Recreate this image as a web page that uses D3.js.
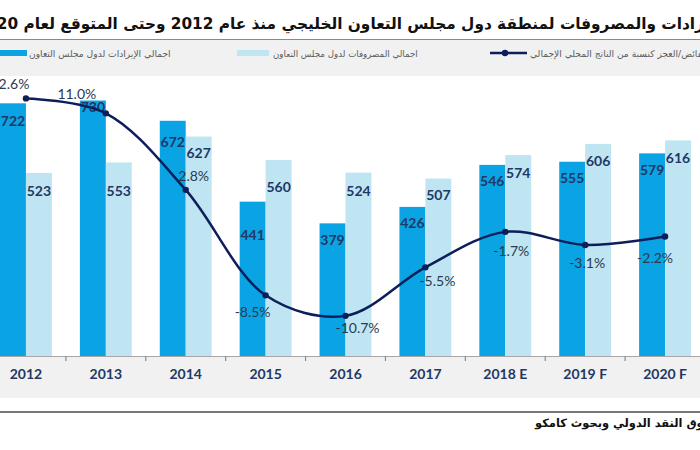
<!DOCTYPE html>
<html><head><meta charset="utf-8">
<script src="https://cdn.jsdelivr.net/npm/d3@7"></script>
<style>
html,body{margin:0;padding:0;background:#fff;overflow:hidden}
svg{display:block}
</style></head>
<body>
<svg id="chart" width="700" height="450"></svg>
<script>
// ---- data ----
const categories = ["2012","2013","2014","2015","2016","2017","2018 E","2019 F","2020 F"];
const revenues = [722,730,672,441,379,426,546,555,579];
const expenses = [523,553,627,560,524,507,574,606,616];
const balancePct = [12.6,11.0,2.8,-8.5,-10.7,-5.5,-1.7,-3.1,-2.2];
const titleText = "الإيرادات والمصروفات لمنطقة دول مجلس التعاون الخليجي منذ عام 2012 وحتى المتوقع لعام 2020";
const legendLabels = ["اجمالي الإيرادات لدول مجلس التعاون","اجمالي المصروفات لدول مجلس التعاون","الفائض/العجز كنسبة من الناتج المحلي الإجمالي"];
const sourceText = "المصدر: صندوق النقد الدولي وبحوث كامكو";

// ---- styles ----
const C = {rev:"#0aa4e4", exp:"#bfe5f3", line:"#0e1e5b", label:"#1f3864", pct:"#2b3a4f", band:"#f1f1f1"};
const arabicFont = "'DejaVu Sans', sans-serif";
const numFont = "Lato, 'Open Sans', sans-serif";

const svg = d3.select("#chart");
const plotTop = 76, plotBottom = 356;

function fitText(sel, target){
  const base = parseFloat(sel.attr("font-size"));
  const w = sel.node().getComputedTextLength();
  sel.attr("font-size", (base*target/w).toFixed(2));
}

// backgrounds
svg.append("rect").attr("x",0).attr("y",40).attr("width",700).attr("height",plotTop-40).attr("fill",C.band);
svg.append("rect").attr("x",0).attr("y",plotBottom).attr("width",700).attr("height",398-plotBottom).attr("fill",C.band);
svg.append("line").attr("x1",0).attr("x2",700).attr("y1",39.5).attr("y2",39.5).attr("stroke","#8a8a8a").attr("stroke-width",1);
svg.append("line").attr("x1",0).attr("x2",700).attr("y1",412).attr("y2",412).attr("stroke","#4a4a4a").attr("stroke-width",1.5);

// title
const title = svg.append("text").attr("x",727).attr("y",29).attr("text-anchor","end")
  .attr("font-family",arabicFont).attr("font-weight","bold").attr("font-size",20).attr("fill","#111")
  .text(titleText);
fitText(title, 752);

// source
const src = svg.append("text").attr("x",535).attr("y",427).attr("text-anchor","start")
  .attr("font-family",arabicFont).attr("font-weight","bold").attr("font-size",12).attr("fill","#111")
  .text(sourceText);
fitText(src, 240);

// scales
const x = d3.scaleBand().domain(categories).range([-14,705]).padding(0);
const x1 = d3.scaleBand().domain(["rev","exp"]).range([14, x.bandwidth()-14]).padding(0);
const y = d3.scaleLinear().domain([0,800]).range([plotBottom, plotTop]);
const yPct = d3.scaleLinear().domain([-15,15]).range([plotBottom, plotTop]);

const rows = categories.map((c,i)=>({cat:c, rev:revenues[i], exp:expenses[i], pct:balancePct[i]}));

// bars
const g = svg.append("g");
const groups = g.selectAll("g.cat").data(rows).join("g").attr("transform",d=>`translate(${x(d.cat)},0)`);
groups.append("rect").attr("x",x1("rev")).attr("width",x1.bandwidth()).attr("y",d=>y(d.rev)).attr("height",d=>y(0)-y(d.rev)).attr("fill",C.rev);
groups.append("rect").attr("x",x1("exp")).attr("width",x1.bandwidth()).attr("y",d=>y(d.exp)).attr("height",d=>y(0)-y(d.exp)).attr("fill",C.exp);

// bar labels (vertical nudge below bar top)
const revNudge = [18,7,21,33,17,16,16,16,17];
const expNudge = [18,29,17,27,18,17,18,17,18];
groups.append("text").attr("x",x1("rev")+x1.bandwidth()/2).attr("y",(d,i)=>y(d.rev)+revNudge[i])
  .attr("dy","0.35em").attr("text-anchor","middle").attr("font-family",numFont).attr("font-weight","bold")
  .attr("font-size",14).attr("fill",C.label).text(d=>d.rev);
groups.append("text").attr("x",x1("exp")+x1.bandwidth()/2).attr("y",(d,i)=>y(d.exp)+expNudge[i])
  .attr("dy","0.35em").attr("text-anchor","middle").attr("font-family",numFont).attr("font-weight","bold")
  .attr("font-size",14).attr("fill",C.label).text(d=>d.exp);

// axis
const axis = svg.append("g").attr("transform",`translate(0,${plotBottom})`)
  .call(d3.axisBottom(x).tickSize(0).tickPadding(13));
axis.select(".domain").attr("stroke","#a6a6a6").attr("stroke-width",1.2);
axis.selectAll("text").attr("font-family",numFont).attr("font-weight","bold").attr("font-size",14).attr("fill",C.label);
axis.selectAll("line.sep").data(categories.slice(1)).join("line").attr("class","sep")
  .attr("x1",d=>x(d)).attr("x2",d=>x(d)).attr("y1",0).attr("y2",5).attr("stroke","#8c8c8c").attr("stroke-width",1.2);

// line
const cx = d=>x(d.cat)+x.bandwidth()/2;
const lineGen = d3.line().x(cx).y(d=>yPct(d.pct)).curve(d3.curveCatmullRom.alpha(0.5));
svg.append("path").datum(rows).attr("d",lineGen).attr("fill","none").attr("stroke",C.line).attr("stroke-width",2.5);
svg.selectAll("circle.pt").data(rows).join("circle").attr("class","pt").attr("cx",cx).attr("cy",d=>yPct(d.pct)).attr("r",3.2).attr("fill",C.line);

const pctNudge = [[-16,-14],[-29,-19],[8,-14],[-13,17],[12,12],[12,14],[6,19],[2,18],[-10,22]];
svg.selectAll("text.pct").data(rows).join("text").attr("class","pct")
  .attr("x",(d,i)=>cx(d)+pctNudge[i][0]).attr("y",(d,i)=>yPct(d.pct)+pctNudge[i][1]).attr("dy","0.35em")
  .attr("text-anchor","middle").attr("font-family",numFont).attr("font-size",14).attr("fill",C.pct)
  .text(d=>d.pct.toFixed(1)+"%");

// legend
const lg = svg.append("g");
lg.append("rect").attr("x",-5).attr("y",50).attr("width",32).attr("height",6).attr("fill",C.rev);
lg.append("rect").attr("x",237).attr("y",50).attr("width",32).attr("height",6).attr("fill",C.exp);
lg.append("line").attr("x1",490).attr("x2",527).attr("y1",53).attr("y2",53).attr("stroke",C.line).attr("stroke-width",2.5);
lg.append("circle").attr("cx",505).attr("cy",53).attr("r",3.2).attr("fill",C.line);
const legX = [29, 273, 530], legW = [142, 145, 178];
legendLabels.forEach((t,i)=>{
  const tx = lg.append("text").attr("x",legX[i]).attr("y",57).attr("text-anchor","start")
    .attr("font-family",arabicFont).attr("font-size",10).attr("fill","#5a5a5a").text(t);
  fitText(tx, legW[i]);
});
</script>
</body></html>
